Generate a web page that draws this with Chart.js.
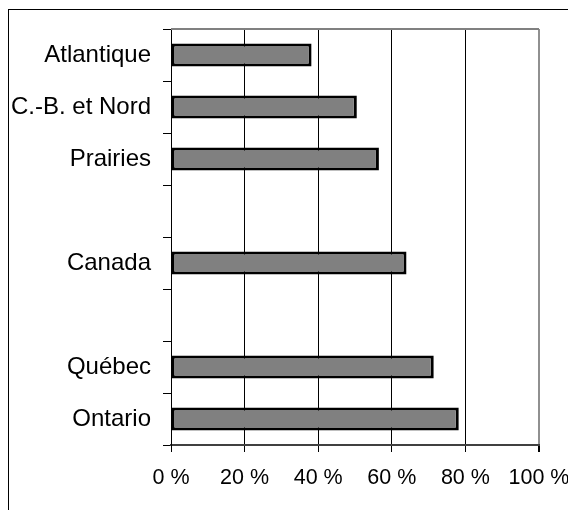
<!DOCTYPE html>
<html>
<head>
<meta charset="utf-8">
<script src="https://cdn.jsdelivr.net/npm/chart.js@4.4.0/dist/chart.umd.min.js"></script>
<style>
  html, body { margin: 0; padding: 0; background: #fff; }
  #wrap { width: 568px; height: 510px; position: relative; }
</style>
</head>
<body>
<div id="wrap"><canvas id="chart" width="568" height="510"></canvas></div>
<script>
// regions, top to bottom (blank rows are empty slots in the original)
const regions = ['Atlantique', 'C.-B. et Nord', 'Prairies', '', 'Canada', '', 'Québec', 'Ontario'];
const shares = [38.2, 50.5, 56.5, null, 64.0, null, 71.4, 78.2];
const pctTicks = [0, 20, 40, 60, 80, 100];

// outer frame and the grey top edge of the plot area
const framePlugin = {
  id: 'frame',
  afterDraw(chart) {
    const ctx = chart.ctx;
    const a = chart.chartArea;
    ctx.save();
    ctx.strokeStyle = '#000';
    ctx.lineWidth = 1;
    ctx.strokeRect(8.5, 9.5, 800, 800);
    ctx.strokeStyle = '#808080';
    ctx.lineWidth = 2;
    ctx.beginPath();
    ctx.moveTo(a.left, a.top);
    ctx.lineTo(a.right, a.top);
    ctx.stroke();
    ctx.restore();
  }
};

const ctx = document.getElementById('chart').getContext('2d');
new Chart(ctx, {
  type: 'bar',
  data: {
    labels: regions,
    datasets: [{
      data: shares,
      backgroundColor: '#808080',
      borderColor: '#000',
      borderWidth: 3,
      borderSkipped: false,
      categoryPercentage: 1,
      barPercentage: 0.44
    }]
  },
  options: {
    indexAxis: 'y',
    responsive: false,
    animation: false,
    layout: { padding: { top: 29, right: 29, left: 0, bottom: 0 } },
    plugins: { legend: { display: false }, tooltip: { enabled: false } },
    scales: {
      x: {
        min: 0,
        max: 100,
        afterBuildTicks: s => { s.ticks = pctTicks.map(v => ({ value: v })); },
        afterFit: s => { s.height = 65; s.paddingLeft = 0; s.paddingRight = 0; },
        ticks: {
          color: '#000',
          padding: 13,
          font: { family: 'Liberation Sans, Arial', size: 21.5 },
          callback: v => v + ' %',
          maxRotation: 0
        },
        grid: {
          color: c => (c.tick && c.tick.value === 100 ? '#909090' : '#000'),
          lineWidth: c => (c.tick && c.tick.value === 100 ? 2 : 1),
          tickColor: '#000',
          tickLength: 7
        },
        border: { color: '#404040', width: 2 }
      },
      y: {
        afterFit: s => { s.width = 171; s.paddingTop = 0; s.paddingBottom = 0; },
        ticks: {
          color: '#000',
          padding: 12,
          font: { family: 'Liberation Sans, Arial', size: 24 }
        },
        grid: {
          drawOnChartArea: false,
          color: '#000',
          tickLength: 8
        },
        border: { color: '#000', width: 1 }
      }
    }
  },
  plugins: [framePlugin]
});
</script>
</body>
</html>
